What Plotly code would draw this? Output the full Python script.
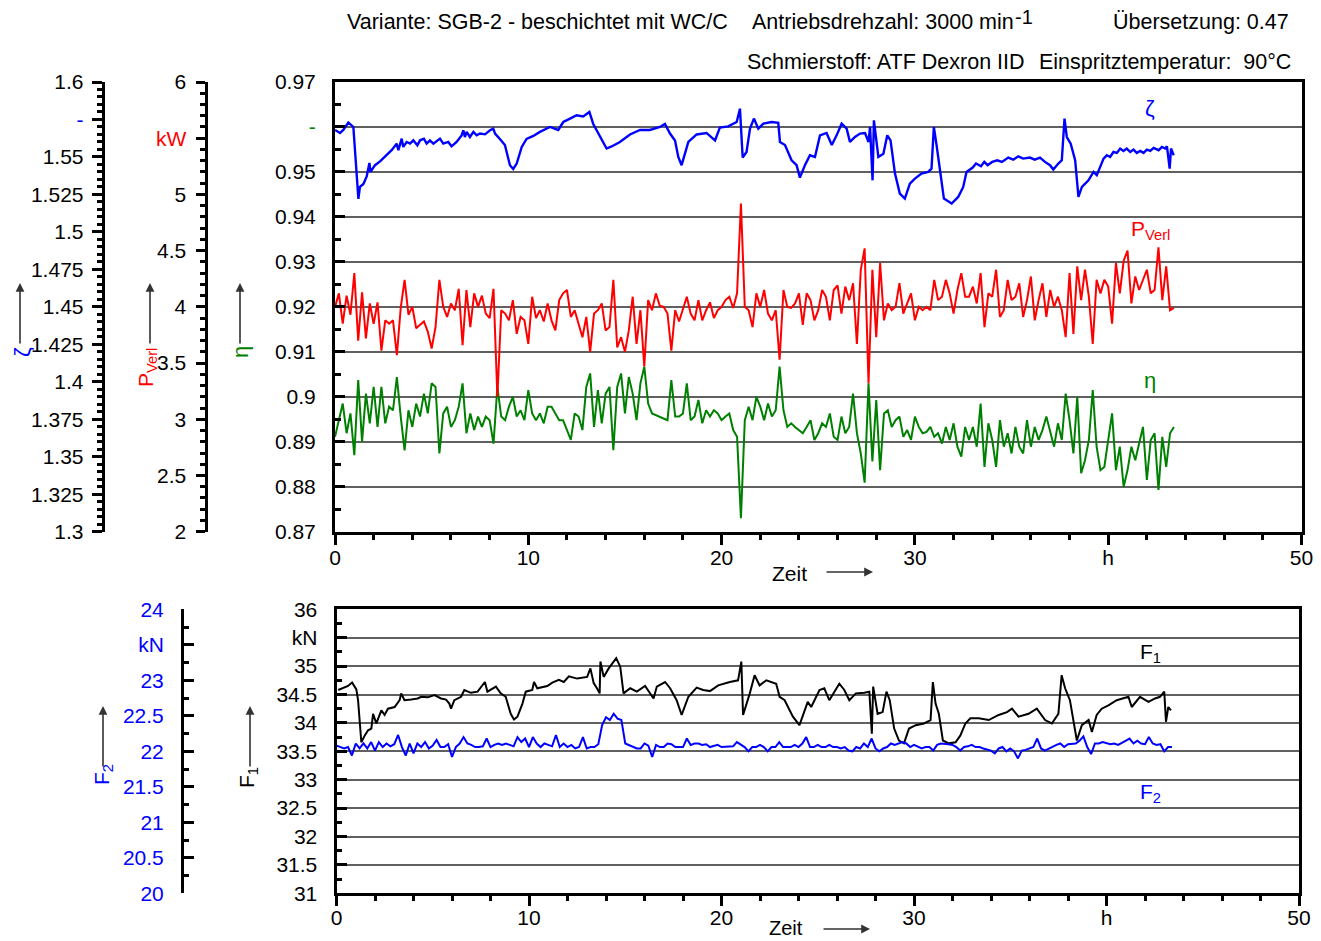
import plotly.graph_objects as go

W, H = 1321, 941


def px(x):
    return x / W


def py(y):
    return 1 - y / H


# ---------------- data ----------------
# zeta (dimensionless), irregular time stamps [h]
zeta_t = [0, 0.26, 0.43, 0.69, 0.95, 1.21, 1.29, 1.47, 1.64, 1.78, 1.84, 2.07, 2.33, 2.59, 2.93,
          3.19, 3.28, 3.45, 3.53, 3.71, 3.88, 4.05, 4.26, 4.40, 4.60, 4.74, 4.91, 5.09, 5.34, 5.43, 5.60,
          5.86, 6.03, 6.29, 6.55, 6.64, 6.72, 6.81, 6.98, 7.16, 7.33, 7.50, 7.76, 8.02, 8.19,
          8.28, 8.53, 8.79,
          9.05, 9.22, 9.40, 9.66, 9.91, 10.26, 10.6, 11.12, 11.55, 11.81, 12.16, 12.5, 12.84, 13.16, 13.36,
          13.53, 13.79, 14.05, 14.31, 14.74, 15.26, 15.78, 16.29, 16.81, 17.07, 17.33, 17.59, 17.76, 17.93,
          18.28, 18.71, 19.22, 19.66, 19.91, 20.34, 20.78, 20.95, 21.09, 21.29, 21.47, 21.67, 21.9, 22.16,
          22.59, 22.93, 23.02, 23.28, 23.62, 23.88, 24.05, 24.31, 24.57, 24.83, 25.09, 25.43, 25.7, 25.95,
          26.21, 26.47, 26.64, 26.9, 27.16, 27.42, 27.6, 27.68, 27.81, 27.88, 28.11, 28.37, 28.57, 28.74,
          28.97, 29.22, 29.48, 29.74, 30.0, 30.34, 30.69, 30.86, 30.98, 31.12, 31.29, 31.5, 31.9, 32.24, 32.5,
          32.67, 32.99, 33.16, 33.42, 33.59, 33.76, 34.0, 34.26, 34.5, 34.83, 35.09, 35.35, 35.6, 35.95,
          36.2, 36.47, 36.73, 36.99, 37.16, 37.42, 37.6, 37.74,
          37.86, 38.06, 38.29, 38.46, 38.64, 38.98, 39.24, 39.41,
          39.76, 39.93, 40.1, 40.27, 40.45, 40.62, 40.79, 40.96, 41.14, 41.31, 41.48, 41.66, 41.83, 42.0,
          42.18, 42.35, 42.61, 42.78, 42.95, 43.04, 43.18, 43.25, 43.39]
zeta_vals = [1.568, 1.566, 1.568, 1.573, 1.570, 1.522, 1.530, 1.532, 1.537, 1.546, 1.540, 1.5445, 1.547, 1.550,
             1.5545,
             1.5589, 1.5545, 1.5622, 1.5567, 1.560, 1.5589, 1.5611, 1.5578, 1.5611, 1.5622, 1.5589, 1.5611,
             1.5589, 1.5611, 1.5622, 1.5589, 1.560, 1.5571, 1.560, 1.5644, 1.5678, 1.5633, 1.5667, 1.5633,
             1.5667, 1.5644, 1.5656, 1.5651, 1.5678, 1.5689,
             1.5656, 1.562, 1.558,
             1.5445, 1.542, 1.5456, 1.5567, 1.562, 1.564, 1.5667,
             1.570, 1.568, 1.5733, 1.5756, 1.5778, 1.577, 1.580, 1.572, 1.568, 1.561, 1.5556, 1.557, 1.560,
             1.565, 1.568, 1.568, 1.570, 1.572, 1.5656, 1.561, 1.550, 1.5445, 1.560, 1.565, 1.566, 1.561,
             1.5696, 1.5704, 1.5733, 1.5822, 1.5496, 1.5533, 1.5689, 1.5756, 1.5689, 1.5722, 1.5733, 1.5727,
             1.560, 1.558, 1.5478, 1.5445, 1.5362, 1.5445, 1.5511, 1.550, 1.5644, 1.566, 1.558, 1.5644, 1.5722,
             1.5689, 1.560, 1.5633, 1.5656, 1.566, 1.560, 1.570, 1.5344, 1.5744, 1.550, 1.5522, 1.5644, 1.5611,
             1.5389, 1.5256, 1.5222, 1.5322, 1.5356, 1.5389, 1.540, 1.5422, 1.570, 1.558, 1.5433, 1.5222,
             1.5189, 1.5233, 1.530, 1.540,
             1.5429, 1.5456, 1.5438, 1.5467, 1.5445, 1.5467, 1.5478, 1.5467, 1.5496, 1.5482, 1.5504, 1.5489,
             1.5496, 1.5482, 1.5496, 1.5467, 1.5445, 1.5416, 1.5456, 1.5478, 1.5756,
             1.5633, 1.5589, 1.5478, 1.5233, 1.530, 1.5344, 1.540, 1.5378,
             1.5489, 1.5511, 1.550, 1.5533, 1.5527, 1.5556, 1.554, 1.5556, 1.5533, 1.5549, 1.5527, 1.554,
             1.5527, 1.5549, 1.554, 1.556, 1.5545, 1.5567, 1.5556, 1.5571, 1.5422, 1.5556, 1.5511]

# power loss [kW], efficiency [-], F2 [kN]: sampled every 0.2 h
p_verl = [4.00, 4.12, 3.85, 4.10, 3.93, 4.30, 3.70, 4.13, 3.72, 4.03,
          3.85, 4.04, 3.61, 3.88, 3.85, 3.88, 3.57, 3.99, 4.24, 3.93,
          4.00, 3.81, 3.84, 3.87, 3.78, 3.63, 3.82, 4.24, 4.00, 3.91,
          4.03, 3.97, 4.16, 3.66, 4.15, 3.82, 4.12, 4.00, 4.10, 3.94,
          3.90, 4.16, 3.20, 3.97, 3.94, 3.88, 4.06, 3.76, 3.91, 3.88,
          3.67, 4.09, 3.90, 3.97, 3.87, 4.03, 3.88, 3.79, 4.06, 4.12,
          4.15, 3.91, 3.97, 3.85, 3.73, 3.91, 3.60, 3.94, 3.97, 4.03,
          3.79, 3.82, 4.24, 3.64, 3.73, 3.60, 3.79, 4.09, 3.67, 3.97,
          3.47, 4.06, 3.97, 4.12, 4.01, 4.00, 3.94, 3.61, 3.97, 3.87,
          3.97, 4.09, 3.94, 3.88, 4.06, 3.88, 3.97, 4.04, 3.90, 3.97,
          4.00, 4.06, 4.09, 3.99, 4.12, 4.92, 4.00, 3.97, 3.82, 4.12,
          4.00, 4.15, 3.94, 3.88, 3.97, 3.53, 4.15, 4.00, 3.99, 4.03,
          4.12, 3.84, 4.12, 4.06, 3.88, 3.97, 4.15, 4.09, 3.88, 4.15,
          4.19, 3.94, 4.18, 4.06, 4.21, 3.67, 4.33, 4.52, 3.32, 4.33,
          3.73, 4.39, 3.88, 4.03, 3.97, 4.00, 4.21, 3.94, 4.03, 4.12,
          3.88, 4.00, 3.97, 4.00, 3.97, 4.24, 4.06, 4.09, 4.24, 4.12,
          3.94, 4.15, 4.30, 4.09, 4.09, 4.18, 4.03, 4.30, 3.82, 4.12,
          4.09, 4.33, 3.91, 3.97, 4.24, 4.06, 4.09, 4.21, 3.91, 4.06,
          4.27, 3.88, 4.06, 4.21, 3.91, 4.15, 4.00, 4.09, 3.97, 3.73,
          4.30, 3.76, 4.36, 4.06, 4.33, 4.09, 3.67, 4.24, 4.12, 4.24,
          4.18, 3.85, 4.39, 4.12, 4.41, 4.50, 4.03, 4.27, 4.15, 4.24,
          4.33, 4.12, 4.15, 4.53, 4.06, 4.36, 3.97, 3.99]

eta = [0.8911, 0.8948, 0.8985, 0.8919, 0.8963, 0.8870, 0.9037, 0.8900, 0.9007, 0.8941,
       0.9022, 0.8933, 0.9022, 0.8941, 0.8978, 0.8970, 0.9044, 0.8956, 0.8881, 0.8970,
       0.8933, 0.8985, 0.8956, 0.9007, 0.8963, 0.9030, 0.9022, 0.8874, 0.8963, 0.8978,
       0.8933, 0.8948, 0.8978, 0.9030, 0.8919, 0.8963, 0.8926, 0.8956, 0.8933, 0.8956,
       0.8948, 0.8896, 0.9022, 0.8956, 0.8948, 0.8978, 0.9000, 0.8956, 0.8970, 0.8948,
       0.9015, 0.8963, 0.8948, 0.8963, 0.8941, 0.8978, 0.8978, 0.8963, 0.8948, 0.8948,
       0.8926, 0.8904, 0.8963, 0.8956, 0.8926, 0.9022, 0.9052, 0.8933, 0.9015, 0.8941,
       0.9007, 0.9022, 0.8881, 0.9022, 0.9052, 0.8963, 0.9044, 0.9007, 0.8948, 0.9030,
       0.9067, 0.8985, 0.8963, 0.8959, 0.8956, 0.8952, 0.8948, 0.9037, 0.8956, 0.8956,
       0.8963, 0.9030, 0.8948, 0.8956, 0.8993, 0.8941, 0.8970, 0.8956, 0.8970, 0.8963,
       0.8948, 0.8956, 0.8963, 0.8926, 0.8911, 0.8730, 0.8948, 0.8978, 0.8948, 0.9000,
       0.8978, 0.8948, 0.8985, 0.8956, 0.8970, 0.9067, 0.8970, 0.8933, 0.8941, 0.8933,
       0.8926, 0.8919, 0.8933, 0.8948, 0.8904, 0.8919, 0.8941, 0.8933, 0.8963, 0.8911,
       0.8904, 0.8956, 0.8919, 0.8933, 0.9007, 0.8919, 0.8874, 0.8809, 0.9030, 0.8856,
       0.8993, 0.8837, 0.8963, 0.8970, 0.8933, 0.8948, 0.8956, 0.8911, 0.8926, 0.8904,
       0.8956, 0.8933, 0.8919, 0.8922, 0.8933, 0.8911, 0.8919, 0.8896, 0.8933, 0.8904,
       0.8941, 0.8889, 0.8867, 0.8933, 0.8904, 0.8933, 0.8889, 0.8985, 0.8844, 0.8941,
       0.8904, 0.8844, 0.8948, 0.8889, 0.8919, 0.8874, 0.8933, 0.8889, 0.8874, 0.8948,
       0.8889, 0.8933, 0.8904, 0.8926, 0.8956, 0.8919, 0.8889, 0.8941, 0.8904, 0.9007,
       0.8948, 0.8874, 0.9000, 0.8830, 0.8859, 0.8904, 0.9015, 0.8889, 0.8837, 0.8844,
       0.8904, 0.8963, 0.8837, 0.8889, 0.8800, 0.8837, 0.8889, 0.8859, 0.8896, 0.8933,
       0.8815, 0.8904, 0.8919, 0.8793, 0.8911, 0.8844, 0.8919, 0.8933]

f2 = [22.08, 22.06, 22.04, 22.06, 21.94, 22.11, 22.04, 22.11, 22.04, 22.13,
      22.01, 22.13, 22.06, 22.11, 22.07, 22.10, 22.23, 22.06, 21.94, 22.11,
      21.97, 22.11, 22.06, 22.13, 22.04, 22.08, 22.16, 22.06, 22.06, 22.10,
      21.92, 22.06, 22.11, 22.20, 22.11, 22.09, 22.06, 22.06, 22.07, 22.18,
      22.06, 22.09, 22.11, 22.09, 22.11, 22.09, 22.07, 22.20, 22.13, 22.18,
      22.06, 22.20, 22.11, 22.06, 22.11, 22.09, 22.07, 22.23, 22.06, 22.11,
      22.06, 22.09, 22.04, 22.06, 22.20, 22.04, 22.06, 22.06, 22.10, 22.37,
      22.48, 22.44, 22.53, 22.46, 22.44, 22.11, 22.09, 22.06, 22.04, 22.04,
      22.11, 22.08, 21.92, 22.09, 22.06, 22.06, 22.11, 22.10, 22.06, 22.06,
      22.06, 22.18, 22.09, 22.11, 22.11, 22.09, 22.10, 22.06, 22.07, 22.09,
      22.06, 22.06, 22.06, 22.07, 22.13, 22.10, 22.06, 22.00, 22.06, 22.06,
      22.09, 22.06, 22.00, 22.06, 22.06, 22.13, 22.06, 22.06, 22.06, 22.09,
      22.06, 22.11, 22.20, 22.06, 22.06, 22.09, 22.06, 22.06, 22.09, 22.06,
      22.06, 22.04, 22.06, 22.01, 22.00, 22.06, 22.04, 22.11, 22.06, 22.18,
      22.04, 22.00, 22.04, 22.06, 22.11, 22.09, 22.11, 22.13, 22.11, 22.06,
      22.09, 22.06, 22.04, 22.06, 22.06, 22.01, 22.09, 22.11, 22.11, 22.10,
      22.09, 22.06, 22.01, 22.06, 22.07, 22.09, 22.06, 22.06, 22.04, 22.02,
      22.01, 21.97, 22.04, 22.06, 22.00, 22.04, 22.00, 21.90, 22.01, 22.02,
      22.04, 22.06, 22.18, 22.04, 22.01, 22.04, 22.06, 22.09, 22.11, 22.06,
      22.10, 22.11, 22.11, 22.15, 22.21, 22.06, 21.96, 22.11, 22.11, 22.13,
      22.11, 22.10, 22.11, 22.09, 22.12, 22.15, 22.18, 22.11, 22.15, 22.11,
      22.10, 22.20, 22.11, 22.09, 22.10, 22.00, 22.06, 22.06]

sample_step_h = 0.2
t_sampled = [round(i * sample_step_h, 1) for i in range(len(p_verl))]

# F1 [kN], irregular time stamps [h]
f1_t = [0.09, 0.34, 0.6, 0.81, 1.03, 1.12, 1.29, 1.47, 1.64, 1.81, 1.9, 2.07, 2.33, 2.5, 2.67, 3.02, 3.28, 3.36,
        3.53, 3.88, 4.22, 4.4, 4.74, 5.09, 5.43, 5.69, 5.86, 5.95, 6.12, 6.47, 6.64, 6.98, 7.33, 7.71, 7.84,
        8.28, 8.53, 8.79, 9.05, 9.22, 9.4, 9.66, 9.83, 10.17, 10.26, 10.43, 10.95, 11.21, 11.55, 11.81, 12.07,
        12.5, 13.02, 13.19, 13.36, 13.53, 13.67, 13.71, 13.88, 14.14, 14.53, 14.74, 14.91, 15.26, 15.6, 16.03,
        16.47, 16.64, 17.07, 17.33, 17.67, 17.93, 18.28, 18.71, 19.05, 19.4, 19.83, 20.43, 20.86, 21.03,
        21.12, 21.47, 21.72, 21.98, 22.33, 22.84, 23.02, 23.28, 23.71, 24.05, 24.48, 24.66, 25.09, 25.34,
        25.6, 26.12, 26.38, 26.64, 26.98, 27.42, 27.68, 27.81, 27.88, 28.11, 28.37, 28.57, 28.74, 28.97,
        29.22, 29.48, 29.74, 30.09, 30.52, 30.86, 30.98, 31.12, 31.29, 31.5, 31.81, 32.16, 32.41, 32.67,
        32.93, 33.36, 33.88, 34.4, 34.83, 35.09, 35.43, 35.95, 36.38, 36.81, 37.16, 37.5, 37.67, 37.85,
        38.1, 38.46, 38.72, 39.07, 39.24, 39.49, 39.75, 40.1, 40.53, 41.14, 41.31, 41.74, 42.18, 42.52,
        42.78, 43.0, 43.09, 43.21, 43.35]
f1_vals = [34.58, 34.62, 34.65, 34.71, 34.59, 34.40, 33.66, 33.78, 33.87, 33.90, 34.16, 33.99, 34.22, 34.14,
           34.25, 34.28, 34.40, 34.52, 34.40, 34.41, 34.43, 34.46, 34.45, 34.49, 34.43, 34.41, 34.34, 34.25,
           34.40, 34.46, 34.58, 34.53, 34.55, 34.72, 34.55, 34.64, 34.52, 34.46, 34.16, 34.06, 34.11, 34.34,
           34.55, 34.58, 34.72, 34.61, 34.65, 34.71, 34.76, 34.72, 34.82, 34.78, 34.81, 34.96, 34.70, 34.61,
           34.52, 35.08, 34.81, 34.96, 35.14, 34.99, 34.52, 34.61, 34.55, 34.65, 34.43, 34.64, 34.72, 34.61,
           34.40, 34.14, 34.46, 34.62, 34.58, 34.56, 34.66, 34.72, 34.75, 35.08, 34.14, 34.52, 34.84, 34.66,
           34.75, 34.69, 34.46, 34.40, 34.11, 33.96, 34.37, 34.28, 34.58, 34.61, 34.40, 34.69, 34.58, 34.40,
           34.52, 34.53, 34.55, 33.81, 34.64, 34.16, 34.19, 34.55, 34.40, 33.90, 33.69, 33.64, 33.90, 33.96,
           33.99, 34.05, 34.72, 34.34, 34.16, 33.69, 33.64, 33.66, 33.78, 33.99, 34.08, 34.08, 34.05, 34.14,
           34.19, 34.25, 34.11, 34.16, 34.25, 34.05, 33.99, 34.16, 34.84, 34.61, 34.40, 33.69, 33.96, 34.05,
           33.84, 34.14, 34.25, 34.31, 34.40, 34.46, 34.28, 34.46, 34.37, 34.43, 34.46, 34.55, 34.02, 34.28,
           34.22]

# axis ticks
x_tickvals = [0, 10, 20, 30, 40, 50]
x_ticktext = ["0", "10", "20", "30", "h", "50"]
eta_tickvals = [0.87, 0.88, 0.89, 0.90, 0.91, 0.92, 0.93, 0.94, 0.95, 0.96, 0.97]
eta_ticktext = ["0.87", "0.88", "0.89", "0.9", "0.91", "0.92", "0.93", "0.94", "0.95",
                '<span style="color:#008000">-</span>', "0.97"]
zeta_tickvals = [1.3, 1.325, 1.35, 1.375, 1.4, 1.425, 1.45, 1.475, 1.5, 1.525, 1.55, 1.575, 1.6]
zeta_ticktext = ["1.3", "1.325", "1.35", "1.375", "1.4", "1.425", "1.45", "1.475", "1.5", "1.525", "1.55",
                 '<span style="color:#0000ff">-</span>', "1.6"]
p_tickvals = [2, 2.5, 3, 3.5, 4, 4.5, 5, 5.5, 6]
p_ticktext = ["2", "2.5", "3", "3.5", "4", "4.5", "5", '<span style="color:#ff0000">kW</span>', "6"]
f1_tickvals = [31, 31.5, 32, 32.5, 33, 33.5, 34, 34.5, 35, 35.5, 36]
f1_ticktext = ["31", "31.5", "32", "32.5", "33", "33.5", "34", "34.5", "35", "kN", "36"]
f2_tickvals = [20, 20.5, 21, 21.5, 22, 22.5, 23, 23.5, 24]
f2_ticktext = ["20", "20.5", "21", "21.5", "22", "22.5", "23", "kN", "24"]

# ---------------- styling ----------------
FONT = "Arial, 'Liberation Sans', sans-serif"
TF = dict(family=FONT, size=21, color="black")
BLUE, RED, GREEN = "#0000ff", "#ff0000", "#008000"

top_dom_x = [px(335), px(1301.5)]
top_dom_y = [py(531.7), py(82)]
bot_dom_x = [px(336.5), px(1299)]
bot_dom_y = [py(893.3), py(609.3)]

fig = go.Figure()
fig.add_trace(go.Scatter(x=zeta_t, y=zeta_vals, xaxis="x", yaxis="y2", mode="lines",
                         line=dict(color=BLUE, width=2.4), name="ζ"))
fig.add_trace(go.Scatter(x=t_sampled, y=p_verl, xaxis="x", yaxis="y3", mode="lines",
                         line=dict(color=RED, width=2), name="P_Verl"))
fig.add_trace(go.Scatter(x=t_sampled, y=eta, xaxis="x", yaxis="y", mode="lines",
                         line=dict(color=GREEN, width=2), name="η"))
fig.add_trace(go.Scatter(x=f1_t, y=f1_vals, xaxis="x2", yaxis="y6", mode="lines",
                         line=dict(color="black", width=2), name="F1"))
fig.add_trace(go.Scatter(x=t_sampled, y=f2, xaxis="x2", yaxis="y7", mode="lines",
                         line=dict(color=BLUE, width=2), name="F2"))


def minor(dtick, ticks, ln, w=2.5):
    return dict(tickmode="linear", dtick=dtick, ticks=ticks, ticklen=ln, tickwidth=w, tickcolor="black")


NOAM = dict(automargin=False, fixedrange=True, zeroline=False)
common_x = dict(range=[0, 50], tickmode="array", tickvals=x_tickvals, ticktext=x_ticktext,
                tickwidth=2.5, tickcolor="black", showgrid=False, tickfont=TF, **NOAM)

layout = dict(
    template="none",
    width=W, height=H, margin=dict(l=0, r=0, t=0, b=0, pad=0, autoexpand=False),
    paper_bgcolor="white", plot_bgcolor="white", showlegend=False,
    font=dict(family=FONT, size=21, color="black"),
    # ---- top panel ----
    xaxis=dict(domain=top_dom_x, anchor="y", ticks="outside", ticklen=10, ticklabelstandoff=-5,
               minor=minor(2, "outside", 5), showline=True, linewidth=3, linecolor="black",
               mirror=True, **common_x),
    xaxis3=dict(overlaying="x", anchor="y", side="bottom", ticks="inside", ticklen=10,
                minor=minor(2, "inside", 5), showticklabels=False, showline=False, **common_x),
    yaxis=dict(domain=top_dom_y, anchor="x", range=[0.87, 0.97], tickmode="array",
               tickvals=eta_tickvals, ticktext=eta_ticktext, ticks="inside", ticklen=10, tickwidth=2.5,
               tickcolor="black", minor=minor(0.005, "inside", 6), showgrid=True, gridcolor="#606060",
               gridwidth=1.5, showline=True, linewidth=3, linecolor="black", mirror=True,
               tickfont=TF, ticklabelstandoff=12, **NOAM),
    yaxis8=dict(overlaying="y", anchor="x", side="left", range=[0.87, 0.97], tickmode="array",
                tickvals=eta_tickvals, ticks="outside", ticklen=10, tickwidth=2.5, tickcolor="black",
                showticklabels=False, showgrid=False, showline=False, **NOAM),
    yaxis2=dict(overlaying="y", anchor="free", position=px(102.7), side="left", range=[1.3, 1.6],
                tickmode="array", tickvals=zeta_tickvals, ticktext=zeta_ticktext, ticks="outside",
                ticklen=10, tickwidth=2.5, tickcolor="black", minor=minor(0.005, "outside", 5),
                showgrid=False, showline=True, linewidth=3, linecolor="black",
                tickfont=TF, ticklabelstandoff=4, **NOAM),
    yaxis4=dict(overlaying="y", anchor="free", position=px(102.7), side="left", range=[1.3, 1.6],
                tickmode="array", tickvals=zeta_tickvals, ticks="inside", ticklen=10, tickwidth=2.5,
                tickcolor="black", minor=minor(0.005, "inside", 5), showticklabels=False,
                showgrid=False, showline=False, **NOAM),
    yaxis3=dict(overlaying="y", anchor="free", position=px(205.5), side="left", range=[2, 6],
                tickmode="array", tickvals=p_tickvals, ticktext=p_ticktext, ticks="outside",
                ticklen=9, tickwidth=2.5, tickcolor="black", minor=minor(0.1, "outside", 5),
                showgrid=False, showline=True, linewidth=3, linecolor="black",
                tickfont=TF, ticklabelstandoff=5, **NOAM),
    yaxis5=dict(overlaying="y", anchor="free", position=px(205.5), side="left", range=[2, 6],
                tickmode="array", tickvals=p_tickvals, ticks="inside", ticklen=9, tickwidth=2.5,
                tickcolor="black", minor=minor(0.1, "inside", 5), showticklabels=False,
                showgrid=False, showline=False, **NOAM),
    # ---- bottom panel ----
    xaxis2=dict(domain=bot_dom_x, anchor="y6", ticks="outside", ticklen=10, ticklabelstandoff=-7,
                minor=minor(2, "outside", 5), showline=True, linewidth=3, linecolor="black",
                mirror=True, **common_x),
    yaxis6=dict(domain=bot_dom_y, anchor="x2", range=[31, 36], tickmode="array",
                tickvals=f1_tickvals, ticktext=f1_ticktext, ticks="inside", ticklen=10, tickwidth=2.5,
                tickcolor="black", minor=minor(0.25, "inside", 5), showgrid=True, gridcolor="#606060",
                gridwidth=1.5, showline=True, linewidth=3, linecolor="black", mirror=True,
                tickfont=TF, ticklabelstandoff=12, **NOAM),
    yaxis7=dict(overlaying="y6", anchor="free", position=px(182), side="left", range=[20, 24],
                tickmode="array", tickvals=f2_tickvals, ticktext=f2_ticktext, ticks="inside",
                ticklen=10, tickwidth=2.5, tickcolor="black", minor=minor(0.25, "inside", 5),
                showgrid=False, showline=True, linewidth=3, linecolor="black",
                tickfont=dict(family=FONT, size=21, color=BLUE), ticklabelstandoff=13, **NOAM),
)
fig.update_layout(**layout)

ann = []


def text(x, y, s, color="black", size=21, xanchor="center", angle=0):
    ann.append(dict(xref="paper", yref="paper", x=px(x), y=py(y), text=s, showarrow=False,
                    xanchor=xanchor, yanchor="middle", textangle=angle,
                    font=dict(family=FONT, size=size, color=color)))


def arrow(x_head, y_head, ax, ay):
    ann.append(dict(xref="paper", yref="paper", x=px(x_head), y=py(y_head), text="", showarrow=True,
                    ax=ax, ay=ay, arrowhead=2, arrowsize=1.1, arrowwidth=1.6, arrowcolor="#333333"))


# header
HS = 21.5
text(345, 22, "Variante: SGB-2 - beschichtet mit WC/C", size=HS, xanchor="left")
text(750, 22, "Antriebsdrehzahl: 3000 min", size=HS, xanchor="left")
text(1013, 17, "-1", size=20, xanchor="left")
text(1111, 22, "Übersetzung: 0.47", size=HS, xanchor="left")
text(745, 62, "Schmierstoff: ATF Dexron IID", size=HS, xanchor="left")
text(1037, 62, "Einspritztemperatur:\u00a0\u00a090°C", size=HS, xanchor="left")

# curve labels
text(1150, 108, "ζ", BLUE, 22)
text(1150, 230, "P<sub>Verl</sub>", RED, 21)
text(1150, 380, "η", GREEN, 22)
text(1150, 653, "F<sub>1</sub>", "black", 21)
text(1150, 793, "F<sub>2</sub>", BLUE, 21)

# rotated axis titles + arrows
text(22, 352, "ζ", BLUE, 22, angle=-90)
arrow(20, 283, 0, 62)
text(147, 368, "P<sub>Verl</sub>", RED, 21, angle=-90)
arrow(150, 283, 0, 62)
text(240, 352, "η", GREEN, 22, angle=-90)
arrow(240, 283, 0, 62)
text(103, 775, "F<sub>2</sub>", BLUE, 21, angle=-90)
arrow(103, 706, 0, 62)
text(248, 778, "F<sub>1</sub>", "black", 21, angle=-90)
arrow(250, 706, 0, 62)

# Zeit labels
text(789, 573, "Zeit")
arrow(873, 572, -48, 0)
text(786, 928, "Zeit", size=20)
arrow(870, 929, -48, 0)

fig.update_layout(annotations=ann)

fig.write_html("out.html", config={"displayModeBar": False},
               post_script="document.body.style.margin='0';document.body.style.overflow='hidden';")
